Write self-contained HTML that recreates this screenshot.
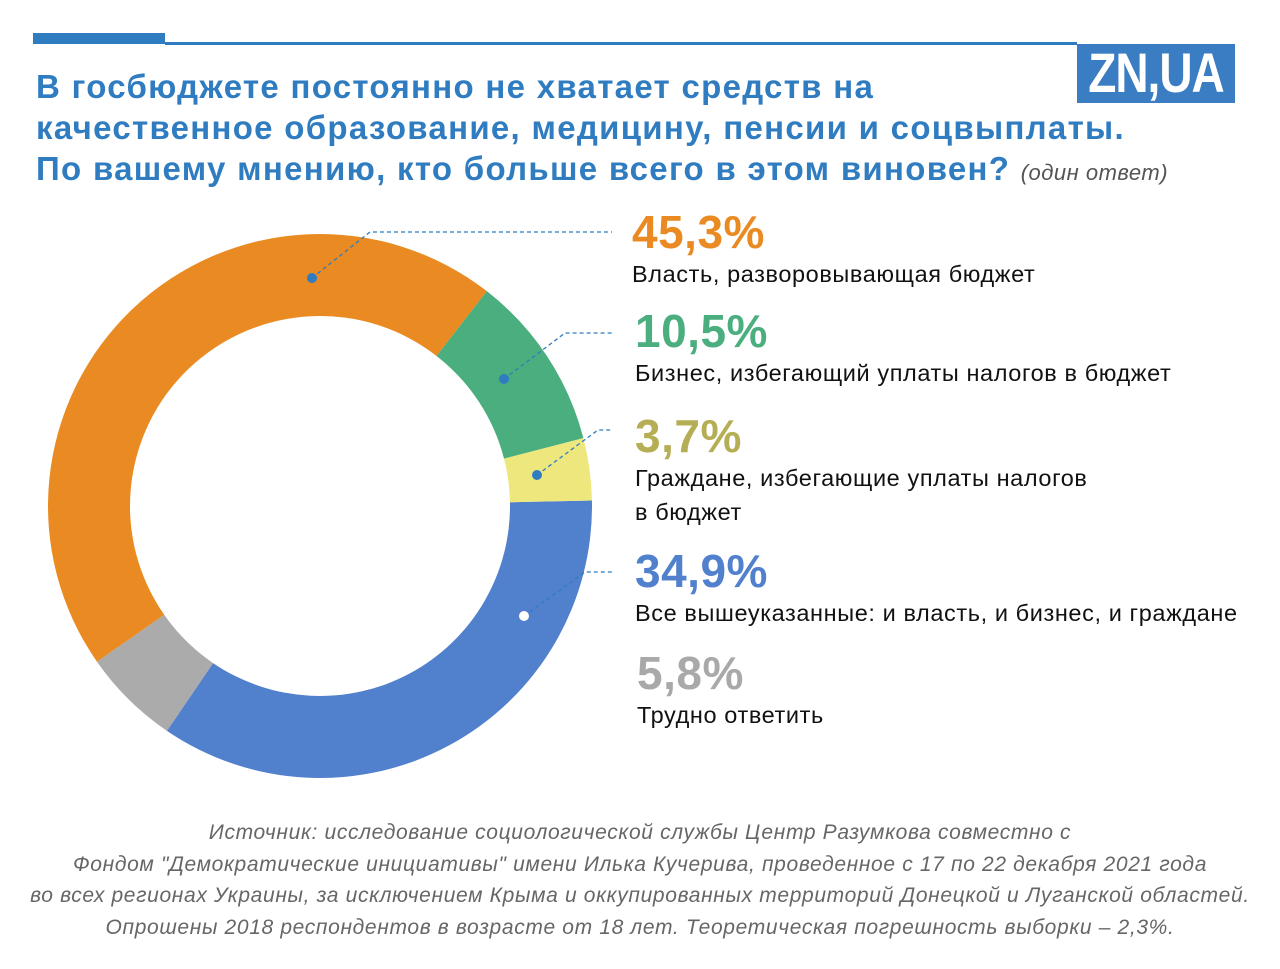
<!DOCTYPE html>
<html><head><meta charset="utf-8"><style>
body{margin:0;width:1280px;height:969px;background:#fff;font-family:"Liberation Sans",sans-serif;position:relative;overflow:hidden}
.a{position:absolute}
.t{left:36px;top:66px;font-size:33px;letter-spacing:1.3px;font-weight:bold;color:#2f7cc0;line-height:41px;white-space:nowrap}
.pct{font-size:46px;font-weight:bold;line-height:50px;letter-spacing:0.5px}
.lbl{font-size:23.5px;color:#111;line-height:34px;letter-spacing:0.6px;white-space:nowrap}
.src{left:0;width:1280px;top:817px;text-align:center;font-size:21px;letter-spacing:0.65px;font-style:italic;color:#666;line-height:31.5px;white-space:nowrap}
</style></head><body>
<div class="a" style="left:33px;top:33px;width:132px;height:11px;background:#2f7cc0"></div>
<div class="a" style="left:165px;top:42px;width:912px;height:3px;background:#2f7cc0"></div>
<div class="a" style="left:1077px;top:44px;width:158px;height:59px;background:#3a7dc3;color:#fff;font-weight:bold;font-size:46px;line-height:59px;text-align:center;letter-spacing:-1px"><span style="display:inline-block;transform:scaleY(1.2)">ZN,UA</span></div>
<div class="a t">В госбюджете постоянно не хватает средств на<br>качественное образование, медицину, пенсии и соцвыплаты.<br>По вашему мнению, кто больше всего в этом виновен? <span style="font-size:22px;letter-spacing:0.5px;font-weight:normal;font-style:italic;color:#555">(один ответ)</span></div>
<svg class="a" style="left:0;top:0" width="1280" height="969" id="chart"></svg>
<div class="a" style="left:632px;top:207px"><div class="pct" style="color:#e98b22">45,3%</div><div class="lbl">Власть, разворовывающая бюджет</div></div>
<div class="a" style="left:635px;top:306px"><div class="pct" style="color:#4bae7f">10,5%</div><div class="lbl">Бизнес, избегающий уплаты налогов в бюджет</div></div>
<div class="a" style="left:635px;top:411px"><div class="pct" style="color:#b5ae55">3,7%</div><div class="lbl">Граждане, избегающие уплаты налогов<br>в бюджет</div></div>
<div class="a" style="left:635px;top:546px"><div class="pct" style="color:#5180cd">34,9%</div><div class="lbl">Все вышеуказанные: и власть, и бизнес, и граждане</div></div>
<div class="a" style="left:637px;top:648px"><div class="pct" style="color:#a9a9a9">5,8%</div><div class="lbl">Трудно ответить</div></div>
<div class="a src">Источник: исследование социологической службы Центр Разумкова совместно с<br>Фондом "Демократические инициативы" имени Илька Кучерива, проведенное с 17 по 22 декабря 2021 года<br>во всех регионах Украины, за исключением Крыма и оккупированных территорий Донецкой и Луганской областей.<br>Опрошены 2018 респондентов в возрасте от 18 лет. Теоретическая погрешность выборки – 2,3%.</div>
<script>
const categories=["Все вышеуказанные","Трудно ответить","Власть","Бизнес","Граждане"];
const values=[34.9,5.8,45.3,10.5,3.7];
const colors=["#5180cd","#ababab","#e98b22","#4bae7f","#ede77e"];
const svg=document.getElementById('chart');
const NS="http://www.w3.org/2000/svg";
const cx=320,cy=506,R=272,r=190;
const total=values.reduce((a,b)=>a+b,0);
let a0=-0.02;
function pt(rad,a){return [cx+rad*Math.cos(a),cy+rad*Math.sin(a)];}
values.forEach((v,i)=>{
  const a1=a0+v/total*2*Math.PI;
  const [x0,y0]=pt(R,a0),[x1,y1]=pt(R,a1),[x2,y2]=pt(r,a1),[x3,y3]=pt(r,a0);
  const lg=(a1-a0)>Math.PI?1:0;
  const p=document.createElementNS(NS,'path');
  p.setAttribute('d',`M${x0},${y0}A${R},${R} 0 ${lg} 1 ${x1},${y1}L${x2},${y2}A${r},${r} 0 ${lg} 0 ${x3},${y3}Z`);
  p.setAttribute('fill',colors[i]);
  
  
  svg.appendChild(p);
  a0=a1;
});
const leaders=[[312,278,370,232],[504,379,565,333],[537,475,598,430],[524,616,585,572]];
leaders.forEach((l,i)=>{
  const pl=document.createElementNS(NS,'polyline');
  pl.setAttribute('points',`${l[0]},${l[1]} ${l[2]},${l[3]} 612,${l[3]}`);
  pl.setAttribute('fill','none');pl.setAttribute('stroke','#2f7cc0');pl.setAttribute('stroke-width','1.3');pl.setAttribute('stroke-dasharray','4,3');
  
  
  svg.appendChild(pl);
  const c=document.createElementNS(NS,'circle');
  c.setAttribute('cx',l[0]);c.setAttribute('cy',l[1]);c.setAttribute('r',5);
  c.setAttribute('fill',i==3?'#fff':'#2f7cc0');
  
  
  svg.appendChild(c);
});
</script>
</body></html>
